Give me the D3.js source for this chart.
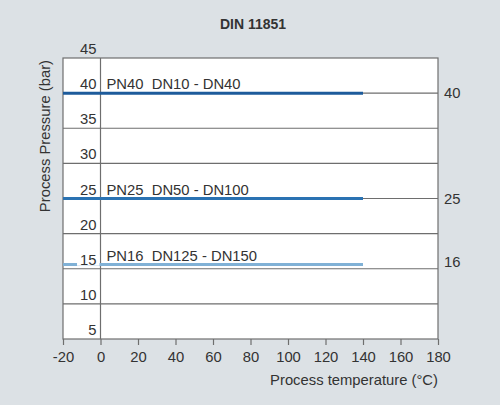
<!DOCTYPE html>
<html>
<head>
<meta charset="utf-8">
<script src="https://cdn.jsdelivr.net/npm/d3@7"></script>
<style>
html,body{margin:0;padding:0;background:#dce1e5;}
svg{display:block;font-family:"Liberation Sans",Arial,sans-serif;}
text{white-space:pre;}
</style>
</head>
<body>
<svg id="chart" width="500" height="405"></svg>
<script>
const title = "DIN 11851";
const xTicks = [-20, 0, 20, 40, 60, 80, 100, 120, 140, 160, 180];
const yTicks = [5, 10, 15, 20, 25, 30, 35, 40, 45];
const seriesNames = ["PN40  DN10 - DN40", "PN25  DN50 - DN100", "PN16  DN125 - DN150"];
const seriesPressure = [40, 25, 15.6];
const seriesTempStart = [-20, -20, -20];
const seriesTempEnd = [140, 140, 140];
const seriesRightLabels = ["40", "25", "16"];
const seriesColors = ["#1d5b9b", "#2a72b2", "#80b1d6"];

const svg = d3.select("#chart");
const W = 500, H = 405;
const m = {left: 63, right: 62, top: 58, bottom: 66};
const x = d3.scaleLinear().domain([-20, 180]).range([m.left, W - m.right]);
const y = d3.scaleLinear().domain([5, 45]).range([H - m.bottom, m.top]);
const textColor = "#333";
const gridColor = "#6e6e6e";
const fs = 14.8;

// plot area
svg.append("rect")
  .attr("x", x(-20)).attr("y", y(45))
  .attr("width", x(180) - x(-20)).attr("height", y(5) - y(45))
  .attr("fill", "#fff");

// horizontal grid lines
svg.append("g").selectAll("line").data(yTicks.filter(d => d > 5 && d < 45)).join("line")
  .attr("x1", x(-20)).attr("x2", x(180))
  .attr("y1", d => y(d)).attr("y2", d => y(d))
  .attr("stroke", gridColor).attr("stroke-width", 1.2);

// vertical line at 0
svg.append("line")
  .attr("x1", x(0)).attr("x2", x(0)).attr("y1", y(45)).attr("y2", y(5))
  .attr("stroke", gridColor).attr("stroke-width", 1.2);

// border
svg.append("rect")
  .attr("x", x(-20)).attr("y", y(45))
  .attr("width", x(180) - x(-20)).attr("height", y(5) - y(45))
  .attr("fill", "none").attr("stroke", gridColor).attr("stroke-width", 1.2);

// series lines
svg.append("g").selectAll("line").data(seriesPressure).join("line")
  .attr("x1", (d, i) => x(seriesTempStart[i])).attr("x2", (d, i) => x(seriesTempEnd[i]))
  .attr("y1", d => y(d)).attr("y2", d => y(d))
  .attr("stroke", (d, i) => seriesColors[i]).attr("stroke-width", 3);

// y tick labels (inside the plot, between -20 and 0)
const yl = svg.append("g");
yTicks.forEach(t => {
  const g = yl.append("g");
  const txt = g.append("text")
    .attr("x", x(0) - 4).attr("y", y(t) - 4)
    .attr("text-anchor", "end")
    .attr("font-size", fs).attr("fill", textColor)
    .text(t);
  if (t > 5 && t < 45) {
    const bb = txt.node().getBBox();
    g.insert("rect", "text")
      .attr("x", bb.x - 3).attr("y", bb.y + 3)
      .attr("width", bb.width + 6).attr("height", bb.height - 5)
      .attr("fill", "#fff");
  }
});

// x axis
const xAxis = d3.axisBottom(x).tickValues(xTicks).tickSize(6).tickPadding(6).tickFormat(d => String(d));
const xg = svg.append("g").attr("transform", `translate(0,${y(5)})`).call(xAxis);
xg.select(".domain").remove();
xg.selectAll(".tick line").attr("stroke", gridColor).attr("stroke-width", 1.2);
xg.selectAll(".tick text").attr("font-size", fs).attr("fill", textColor)
  .attr("font-family", "Liberation Sans, Arial, sans-serif");

// series labels
svg.append("g").selectAll("text").data(seriesNames).join("text")
  .attr("x", x(0) + 6).attr("y", (d, i) => y(seriesPressure[i]) - 4)
  .attr("font-size", fs).attr("fill", textColor)
  .text(d => d);

// right labels
svg.append("g").selectAll("text").data(seriesRightLabels).join("text")
  .attr("x", x(180) + 6).attr("y", d => y(+d)).attr("dy", "0.36em")
  .attr("font-size", fs).attr("fill", textColor)
  .text(d => d);

// title
svg.append("text").attr("x", 253).attr("y", 29)
  .attr("text-anchor", "middle").attr("font-size", 14).attr("font-weight", "bold")
  .attr("fill", textColor).text(title);

// axis titles
svg.append("text").attr("x", x(180)).attr("y", 385)
  .attr("text-anchor", "end").attr("font-size", fs).attr("fill", textColor)
  .text("Process temperature (°C)");
svg.append("text")
  .attr("transform", `translate(50,${m.top + 2}) rotate(-90)`)
  .attr("text-anchor", "end").attr("font-size", fs).attr("fill", textColor)
  .text("Process Pressure (bar)");
</script>
</body>
</html>
